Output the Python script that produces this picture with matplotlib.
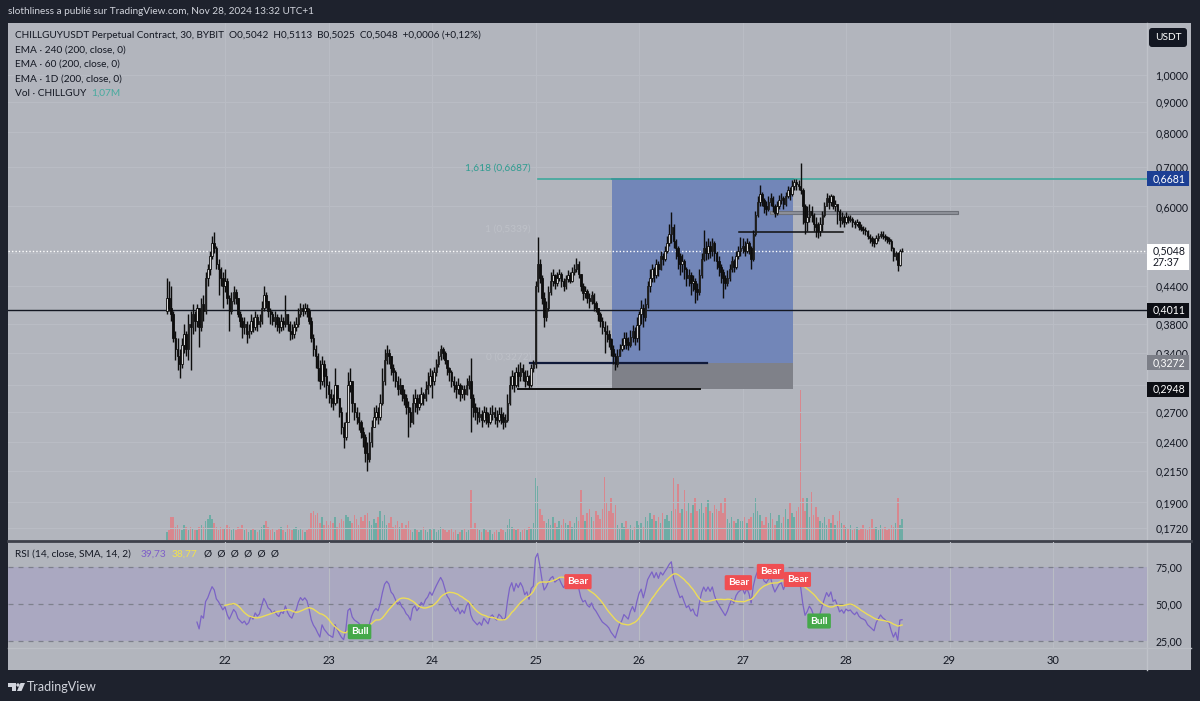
import matplotlib
matplotlib.use("Agg")
import matplotlib.pyplot as plt
from matplotlib.patches import Rectangle, Circle, Polygon, FancyBboxPatch
import numpy as np
import pandas as pd

plt.rcParams['font.family'] = ['Lato', 'DejaVu Sans']

# ---------------- data: CHILLGUYUSDT 30 min candles ----------------
first_bar = [21 + 21 / 48, 22, 23, 24, 25, 26, 27, 28]   # day number of first candle of each day
open_first = 0.400

c21 = [.420, .405, .395, .360, .345, .335, .325, .350, .365, .345, .380, .375, .395, .385, .405, .375, .410, .400,
       .455, .470, .495, .520, .510, .480, .470, .455, .440]
h21 = [.455, .450, .440, .400, .370, .360, .345, .360, .380, .370, .395, .400, .410, .400, .410, .405, .420, .425,
       .465, .480, .505, .535, .543, .515, .490, .475, .465]
l21 = [.395, .400, .385, .355, .330, .318, .308, .320, .340, .335, .330, .318, .365, .370, .375, .348, .370, .385,
       .395, .440, .460, .490, .500, .470, .425, .440, .405]

c22 = [.450, .420, .400, .415, .430, .420, .395, .385, .375, .380, .365, .370, .385, .375, .390, .380, .385,
       .405, .425, .415, .400, .395, .385, .390, .380, .375, .385, .380, .395, .380, .370, .365, .375, .380,
       .395, .405, .400, .405, .400, .385, .360, .345, .335, .320, .305, .325, .310, .300]
h22 = [.470, .455, .425, .430, .440, .435, .420, .400, .390, .390, .385, .380, .395, .390, .400, .395, .395,
       .415, .440, .430, .415, .405, .400, .400, .395, .390, .395, .390, .425, .395, .385, .380, .385, .390,
       .405, .412, .410, .412, .410, .405, .390, .365, .350, .340, .330, .335, .330, .320]
l22 = [.430, .410, .370, .395, .410, .410, .390, .375, .360, .365, .353, .360, .365, .368, .372, .370, .375,
       .380, .400, .405, .390, .380, .378, .375, .370, .367, .370, .372, .375, .370, .357, .358, .360, .370,
       .375, .390, .392, .395, .390, .380, .355, .335, .320, .305, .295, .300, .298, .285]

c23 = [.290, .285, .280, .300, .285, .270, .255, .245, .260, .300, .305, .280, .270, .265, .260, .250, .245,
       .230, .225, .240, .255, .265, .270, .265, .280, .305, .330, .340, .335, .320, .315, .305, .295, .300,
       .290, .285, .275, .270, .260, .280, .285, .275, .280, .290, .285, .295, .300, .310]
h23 = [.305, .295, .290, .320, .300, .285, .275, .260, .270, .315, .320, .305, .280, .275, .270, .262, .255,
       .248, .240, .250, .262, .275, .278, .275, .290, .320, .345, .350, .345, .335, .325, .318, .310, .308,
       .300, .295, .290, .282, .275, .290, .295, .290, .290, .298, .292, .305, .315, .320]
l23 = [.280, .275, .272, .278, .280, .265, .248, .235, .242, .260, .292, .270, .262, .258, .252, .244, .236,
       .222, .215, .222, .236, .255, .262, .258, .262, .278, .300, .325, .325, .312, .305, .298, .288, .290,
       .282, .278, .268, .245, .255, .258, .270, .268, .272, .278, .278, .282, .290, .298]

c24 = [.305, .315, .325, .335, .345, .340, .330, .320, .315, .305, .300, .295, .300, .290, .295, .290, .300,
       .305, .285, .275, .270, .265, .268, .262, .270, .265, .260, .268, .270, .265, .262, .268, .265, .260,
       .262, .280, .300, .310, .300, .315, .310, .320, .315, .305, .310, .300, .320, .325]
h24 = [.318, .322, .332, .342, .350, .348, .342, .330, .322, .318, .310, .305, .308, .302, .300, .300, .308,
       .312, .333, .290, .280, .275, .275, .272, .276, .275, .270, .275, .278, .275, .272, .275, .275, .270,
       .268, .290, .310, .318, .315, .322, .325, .328, .325, .318, .318, .312, .325, .330]
l24 = [.285, .300, .310, .322, .330, .332, .325, .312, .305, .298, .292, .285, .290, .282, .285, .283, .288,
       .295, .250, .265, .262, .258, .260, .255, .260, .258, .255, .258, .262, .258, .255, .260, .258, .253,
       .255, .260, .278, .295, .292, .298, .298, .305, .305, .298, .300, .295, .298, .315]

c25 = [.440, .480, .455, .420, .390, .405, .430, .450, .460, .445, .455, .462, .450, .440, .452, .460, .450,
       .465, .470, .480, .462, .440, .428, .432, .420, .415, .425, .412, .405, .395, .385, .375, .370, .365,
       .358, .345, .335, .325, .335, .345, .350, .360, .355, .350, .362, .370, .360, .378]
h25 = [.450, .533, .490, .460, .430, .415, .440, .465, .470, .462, .465, .470, .465, .455, .460, .468, .465,
       .475, .480, .492, .485, .462, .445, .440, .435, .428, .432, .428, .415, .405, .398, .390, .385, .378,
       .372, .360, .350, .340, .345, .352, .360, .368, .368, .362, .372, .378, .375, .390]
l25 = [.320, .430, .445, .410, .375, .385, .400, .425, .440, .435, .440, .450, .438, .432, .435, .448, .445,
       .448, .460, .465, .455, .432, .418, .420, .412, .405, .410, .400, .398, .385, .375, .365, .340, .355,
       .348, .335, .325, .318, .322, .335, .342, .345, .345, .344, .348, .355, .350, .355]

c26 = [.395, .405, .390, .410, .440, .455, .470, .460, .480, .470, .495, .490, .505, .520, .540, .555, .525,
       .510, .495, .480, .485, .470, .455, .460, .445, .450, .435, .430, .460, .490, .510, .500, .515, .505,
       .520, .500, .485, .475, .465, .455, .445, .455, .470, .485, .475, .495, .505, .510]
h26 = [.400, .418, .410, .420, .450, .470, .480, .475, .490, .485, .505, .500, .515, .535, .560, .587, .560,
       .528, .515, .500, .498, .490, .475, .470, .465, .460, .455, .445, .470, .500, .547, .525, .530, .525,
       .530, .525, .505, .495, .480, .470, .460, .468, .480, .495, .490, .505, .515, .533]
l26 = [.344, .380, .375, .385, .405, .430, .448, .448, .455, .458, .468, .478, .485, .500, .515, .520, .510,
       .490, .470, .460, .465, .452, .440, .440, .425, .432, .412, .418, .425, .455, .485, .488, .490, .492,
       .495, .485, .470, .458, .445, .420, .435, .440, .450, .465, .465, .470, .490, .495]

c27 = [.515, .505, .520, .510, .490, .540, .580, .610, .630, .615, .600, .595, .610, .620, .600, .585, .600,
       .615, .620, .605, .625, .640, .630, .650, .660, .655, .650, .640, .600, .565, .575, .590, .580, .560,
       .555, .545, .560, .580, .600, .620, .610, .625, .600, .605, .590, .570, .575, .565]
h27 = [.530, .525, .530, .525, .515, .548, .590, .625, .652, .635, .620, .612, .625, .632, .625, .605, .612,
       .628, .632, .625, .635, .650, .648, .665, .668, .668, .665, .710, .645, .605, .600, .605, .600, .585,
       .575, .565, .575, .590, .610, .632, .628, .630, .628, .615, .605, .595, .588, .580]
l27 = [.500, .495, .500, .498, .470, .485, .535, .575, .600, .600, .585, .580, .590, .600, .588, .575, .580,
       .595, .605, .595, .600, .620, .615, .625, .640, .640, .640, .630, .560, .540, .545, .565, .565, .545,
       .533, .530, .535, .545, .575, .600, .595, .600, .595, .590, .560, .555, .560, .555]

c28 = [.575, .570, .572, .565, .560, .565, .555, .550, .548, .545, .535, .530, .525, .520, .530, .535, .540,
       .535, .532, .528, .525, .510, .495, .500, .478, .5042, .5048]
h28 = [.588, .580, .580, .575, .570, .572, .568, .560, .556, .555, .548, .540, .535, .530, .538, .542, .545,
       .545, .540, .536, .532, .528, .512, .505, .502, .508, .5113]
l28 = [.560, .562, .565, .555, .552, .556, .548, .545, .540, .538, .528, .520, .515, .512, .518, .525, .530,
       .528, .525, .520, .518, .505, .485, .488, .467, .476, .5025]

# volume in millions
v21 = [0.4, 0.5, 1.2, 1.2, 0.7, 0.8, 0.6, 0.5, 0.8, 0.7, 0.5, 0.7, 0.6, 0.5, 0.5, 0.7, 0.8, 0.7, 1.0, 1.1, 1.3,
       1.1, 0.9, 0.7, 0.5, 0.7, 0.6]
v22 = [0.6, 0.8, 0.7, 0.5, 0.6, 0.5, 0.7, 0.6, 0.8, 0.5, 0.6, 0.4, 0.5, 0.6, 0.5, 0.4, 0.5, 0.7, 0.8, 1.0, 0.7,
       0.5, 0.6, 0.4, 0.5, 0.6, 0.7, 0.5, 0.4, 0.8, 0.6, 0.5, 0.6, 0.7, 0.5, 0.6, 0.5, 0.4, 0.5, 0.6,
       1.4, 1.5, 1.3, 1.4, 0.9, 1.2, 0.8, 1.0]
v23 = [0.8, 1.0, 0.9, 1.2, 0.7, 0.9, 1.1, 1.0, 1.3, 1.2, 1.0, 0.9, 1.3, 1.1, 0.8, 1.2, 1.0, 1.3, 1.4, 1.0, 0.8,
       1.1, 0.9, 1.2, 1.5, 1.0, 1.3, 0.8, 0.9, 1.2, 0.7, 0.8, 1.0, 0.7, 0.9, 0.6, 0.8, 1.0, 0.5, 0.4, 0.6,
       0.5, 0.4, 0.5, 0.7, 0.5, 0.4, 0.6]
v24 = [0.5, 0.6, 0.4, 0.5, 0.7, 0.6, 0.5, 0.4, 0.5, 0.6, 0.4, 0.5, 0.3, 0.4, 0.5, 0.6, 0.4, 0.5, 2.6, 0.6, 0.9,
       0.6, 0.5, 0.4, 0.6, 0.5, 0.4, 0.5, 0.3, 0.4, 0.5, 0.4, 0.6, 0.5, 0.4, 0.8, 1.1, 0.7, 0.6, 0.5, 0.6,
       0.4, 0.5, 0.6, 0.5, 0.7, 0.6, 0.9]
v25 = [3.2, 2.8, 1.6, 1.3, 1.0, 0.9, 1.1, 0.8, 1.2, 0.9, 0.7, 1.0, 0.8, 1.1, 0.9, 0.8, 1.0, 0.7, 0.9, 1.2, 1.0,
       2.6, 1.3, 1.0, 1.4, 1.6, 1.2, 1.0, 1.5, 1.3, 1.1, 1.6, 3.3, 2.0, 1.5, 2.2, 1.4, 1.8, 0.8, 0.6, 0.9,
       0.7, 1.0, 0.6, 0.8, 0.5, 0.7, 1.0]
v26 = [0.8, 0.9, 0.7, 1.2, 1.0, 1.4, 1.1, 1.3, 1.0, 1.2, 0.9, 1.4, 1.1, 1.3, 1.0, 1.5, 3.2, 1.6, 2.9, 1.4, 1.6,
       2.6, 1.5, 2.0, 1.4, 1.8, 2.2, 1.5, 1.6, 1.9, 1.4, 1.7, 2.1, 1.5, 1.4, 1.8, 1.6, 1.5, 1.9, 1.4, 2.2,
       1.1, 0.9, 1.2, 1.0, 0.9, 1.1, 1.0]
v27 = [1.0, 1.2, 0.9, 1.1, 1.2, 1.4, 2.2, 1.5, 1.3, 1.0, 0.8, 1.2, 0.9, 1.4, 1.1, 0.8, 1.0, 1.3, 0.9, 1.2, 1.6,
       1.1, 2.0, 1.4, 1.2, 1.5, 1.7, 7.8, 2.2, 1.5, 2.2, 1.2, 2.5, 1.3, 1.7, 1.2, 1.0, 0.9, 1.2, 0.8, 1.1,
       0.9, 1.3, 0.8, 1.0, 1.5, 0.9, 0.8]
v28 = [0.7, 0.6, 0.8, 0.5, 0.6, 0.7, 0.5, 0.6, 0.8, 0.6, 0.5, 0.7, 1.1, 0.6, 0.7, 0.5, 0.8, 0.6, 0.7, 0.5, 0.6,
       0.8, 0.7, 0.9, 2.2, 0.8, 1.07]

closes = [c21, c22, c23, c24, c25, c26, c27, c28]
highs = [h21, h22, h23, h24, h25, h26, h27, h28]
lows = [l21, l22, l23, l24, l25, l26, l27, l28]
vols = [v21, v22, v23, v24, v25, v26, v27, v28]

# chart drawings (time as day of November, price)
price_ticks = [1.0, 0.9, 0.8, 0.7, 0.6, 0.5, 0.44, 0.38, 0.34, 0.30, 0.27, 0.24, 0.215, 0.19, 0.172]
hidden_ticks = [0.5, 0.30]          # covered by the price tags
day_ticks = [22, 23, 24, 25, 26, 27, 28, 29, 30]
last_price = 0.5048
h_level = 0.4011
fib_1618 = 0.6687
fib_start = 25.02
pos_t0, pos_t1 = 25.735, 27.485
pos_target, pos_entry, pos_stop = 0.6681, 0.3272, 0.2948
seg_entry = (24.95, 26.66)
seg_stop = (24.83, 26.59)
seg_mid = (26.97, 27.97, 0.543)
zone = (27.27, 29.08, 0.583, 0.589)
bull_t, bull_v = [23.30, 27.74], [31.3, 38.5]
bear_t, bear_v = [25.41, 26.96, 27.27, 27.53], [65.1, 64.4, 72.0, 66.6]

# ---------------- colours ----------------
FRAME = '#1e222d'
BG = '#b2b5bd'
GRID = '#b9bcc4'
TXT = '#131722'
UP_BODY, DN_BODY = '#d9d9d9', '#0d0d0d'
VOL_UP, VOL_DN = '#6eaca5', '#d8878e'
FS = 7.3

# ---------------- layout (pixels) ----------------
W, H = 1200, 701
L, R = 8, 1147
MAIN_T, MAIN_B = 23, 540
RSI_T, RSI_B = 542, 648


def rect(x0, y0, x1, y1):
    return [x0 / W, 1 - y1 / H, (x1 - x0) / W, (y1 - y0) / H]


def day_of(px):
    return 22 + (px - 225) / 103.5


def price_of(py):
    return np.exp((75 - py) / 257.4)


def py_of(p):
    return 75 - 257.4 * np.log(p)


def rsi_of(py):
    return 50 + (604 - py) / 1.48


t = np.concatenate([s + np.arange(len(c)) / 48 for s, c in zip(first_bar, closes)])
c = np.concatenate(closes)
h = np.concatenate(highs)
lo = np.concatenate(lows)
v = np.concatenate(vols)
o = np.r_[open_first, c[:-1]]
h = np.maximum(h, np.maximum(o, c))
lo = np.minimum(lo, np.minimum(o, c))
up = c >= o

close_s = pd.Series(c)
d = close_s.diff()
gain = d.clip(lower=0).ewm(alpha=1 / 14, adjust=False, min_periods=14).mean()
loss = (-d.clip(upper=0)).ewm(alpha=1 / 14, adjust=False, min_periods=14).mean()
rsi = 100 - 100 / (1 + gain / loss)
rsi_ma = rsi.rolling(14).mean()

fig = plt.figure(figsize=(12, 7.01), dpi=100)
fig.patch.set_facecolor(FRAME)

bg = fig.add_axes([0, 0, 1, 1])
bg.set_xlim(0, W)
bg.set_ylim(H, 0)
bg.axis('off')
bg.add_patch(Rectangle((8, 23), 1183, 647, fc=BG, ec='none'))
bg.plot([R, R], [23, 670], color='#bfc2c9', lw=1)
bg.plot([8, 1191], [RSI_B, RSI_B], color='#bcbfc6', lw=1)
bg.plot([8, 1191], [541, 541], color='#3e414b', lw=2)
# tradingview logo
bg.add_patch(Polygon([(8, 683), (15.5, 683), (15.5, 691), (12, 691), (12, 686.5), (8, 686.5)], fc='#d1d4dc', ec='none'))
bg.add_patch(Circle((18, 685), 1.7, fc='#d1d4dc', ec='none'))
bg.add_patch(Polygon([(20.5, 683), (25, 683), (21.5, 691), (17, 691)], fc='#d1d4dc', ec='none'))

xlim = (day_of(L), day_of(R))

# volume pane (behind the candles)
vax = fig.add_axes(rect(L, MAIN_T, R, MAIN_B))
vax.set_facecolor('none')
vax.bar(t, v, width=0.72 / 48, color=np.where(up, VOL_UP, VOL_DN), lw=0)
vax.set_xlim(*xlim)
vax.set_ylim(0, (MAIN_B - MAIN_T) * 0.052)
vax.axis('off')

ax = fig.add_axes(rect(L, MAIN_T, R, MAIN_B))
ax.set_facecolor('none')
ax.set_yscale('log')
ax.set_xlim(*xlim)
ax.set_ylim(price_of(MAIN_B), price_of(MAIN_T))
ax.yaxis.set_major_locator(matplotlib.ticker.FixedLocator(price_ticks))
ax.yaxis.set_minor_locator(matplotlib.ticker.NullLocator())
ax.yaxis.set_major_formatter(matplotlib.ticker.FuncFormatter(
    lambda y, _: '' if any(abs(y - q) < 1e-9 for q in hidden_ticks) else f"{y:.4f}".replace('.', ',')))
ax.yaxis.tick_right()
ax.tick_params(axis='y', length=0, pad=6, labelsize=FS + 0.3, labelcolor=TXT)
ax.set_xticks(day_ticks)
ax.tick_params(axis='x', length=0, labelbottom=False)
ax.grid(True, color=GRID, lw=0.8)
ax.set_axisbelow(True)
for s in ax.spines.values():
    s.set_visible(False)

# long position tool
ax.add_patch(Rectangle((pos_t0, pos_entry), pos_t1 - pos_t0, pos_target - pos_entry,
                       fc='#7286b8', ec='none', zorder=1))
ax.add_patch(Rectangle((pos_t0, pos_stop), pos_t1 - pos_t0, pos_entry - pos_stop,
                       fc='#7f8189', ec='none', zorder=1))
ax.plot([pos_t0, pos_t1], [pos_target, pos_target], color='#1f3c85', lw=1.2, zorder=2)
ax.plot([fib_start, xlim[1]], [fib_1618, fib_1618], color='#3ea89c', lw=1.2, zorder=2)
ax.text(day_of(531), fib_1618 * 1.025, '1,618 (0,6687)', color='#2e9c90', fontsize=FS,
        ha='right', va='bottom', zorder=2)
ax.text(day_of(531), 0.5339 * 1.01, '1 (0,5339)', color='#bec1c8', fontsize=FS, ha='right', va='bottom', zorder=2)
ax.text(day_of(531), pos_entry * 1.005, '0 (0,3272)', color='#bec1c8', fontsize=FS, ha='right', va='bottom', zorder=2)
ax.add_patch(Rectangle((zone[0], zone[2]), zone[1] - zone[0], zone[3] - zone[2],
                       fc='#8e9199', ec='#6d7078', lw=0.8, zorder=2))
ax.axhline(h_level, color=TXT, lw=1, zorder=3)
ax.axhline(last_price, color='white', lw=1, ls=(0, (1, 1.5)), zorder=3)
ax.plot(seg_entry, [pos_entry] * 2, color='#101a3a', lw=1.6, zorder=3)
ax.plot(seg_stop, [pos_stop] * 2, color='#101010', lw=1.4, zorder=3)
ax.plot(seg_mid[:2], [seg_mid[2]] * 2, color='#101010', lw=1.1, zorder=3)

# candles
ax.vlines(t, lo, h, color='#0d0d0d', lw=1.0, zorder=4)
ax.bar(t, np.maximum(np.abs(c - o), 0.0012), bottom=np.minimum(o, c), width=0.72 / 48,
       color=np.where(up, UP_BODY, DN_BODY), edgecolor='#0d0d0d', lw=0.6, zorder=5)

# RSI pane
rax = fig.add_axes(rect(L, RSI_T, R, RSI_B))
rax.set_facecolor('none')
rax.set_xlim(*xlim)
rax.set_ylim(rsi_of(RSI_B), rsi_of(RSI_T))
rax.axhspan(25, 75, color='#aaa8c1', lw=0, zorder=0)
for lvl in (75, 50, 25):
    rax.axhline(lvl, color='#7d808c', lw=0.9, ls=(0, (4, 4)), zorder=1)
rax.plot(t, rsi, color='#7b63c6', lw=0.9, zorder=3)
rax.plot(t, rsi_ma, color='#ecdc58', lw=1.0, zorder=3)
for x, y in zip(bull_t, bull_v):
    rax.text(x, y, 'Bull', color='white', fontsize=FS, fontweight='bold', ha='center', va='center', zorder=5,
             bbox=dict(boxstyle='round,pad=0.3,rounding_size=0.15', fc='#45a84a', ec='none'))
for x, y in zip(bear_t, bear_v):
    rax.text(x, y, 'Bear', color='white', fontsize=FS, fontweight='bold', ha='center', va='center', zorder=5,
             bbox=dict(boxstyle='round,pad=0.3,rounding_size=0.15', fc='#f04e52', ec='none'))
rax.set_yticks([75, 50, 25])
rax.set_yticklabels(['75,00', '50,00', '25,00'])
rax.yaxis.tick_right()
rax.tick_params(axis='y', length=0, pad=6, labelsize=FS + 0.3, labelcolor=TXT)
rax.set_xticks(day_ticks)
rax.set_xticklabels([str(dd) for dd in day_ticks])
rax.tick_params(axis='x', length=0, pad=5, labelsize=FS + 0.7, labelcolor=TXT)
rax.grid(True, axis='x', color=GRID, lw=0.8)
rax.set_axisbelow(True)
for s in rax.spines.values():
    s.set_visible(False)

# overlay in pixel coordinates: headers and price-scale tags
top = fig.add_axes([0, 0, 1, 1])
top.set_xlim(0, W)
top.set_ylim(H, 0)
top.axis('off')
top.patch.set_alpha(0)

top.text(8, 12, 'slothliness a publié sur TradingView.com, Nov 28, 2024 13:32 UTC+1',
         color='#d1d4dc', fontsize=FS - 0.1, va='center')
top.text(15, 35, 'CHILLGUYUSDT Perpetual Contract, 30, BYBIT  O0,5042  H0,5113  B0,5025  C0,5048  +0,0006 (+0,12%)',
         color=TXT, fontsize=FS - 0.1, va='center')
top.text(15, 50, 'EMA · 240 (200, close, 0)', color=TXT, fontsize=FS, va='center')
top.text(15, 64, 'EMA · 60 (200, close, 0)', color=TXT, fontsize=FS, va='center')
top.text(15, 79, 'EMA · 1D (200, close, 0)', color=TXT, fontsize=FS, va='center')
top.text(15, 93, 'Vol · CHILLGUY', color=TXT, fontsize=FS, va='center')
top.text(91, 93, '1,07M', color='#47ab9f', fontsize=FS, va='center')
top.text(15, 554, 'RSI (14, close, SMA, 14, 2)', color=TXT, fontsize=FS, va='center')
top.text(141, 554, '39,73', color='#7e5fc8', fontsize=FS, va='center')
top.text(172, 554, '38,77', color='#f2e24c', fontsize=FS, va='center')
top.text(204, 554, 'Ø  Ø  Ø  Ø  Ø  Ø', color=TXT, fontsize=FS, va='center')
top.text(27, 687, 'TradingView', color='#d1d4dc', fontsize=9, va='center')

top.add_patch(FancyBboxPatch((1149, 28), 38, 19, boxstyle='round,pad=0,rounding_size=3',
                             fc='#131722', ec='none'))
top.text(1168, 37.5, 'USDT', color='white', fontsize=FS, ha='center', va='center')

tags = [(pos_target, '0,6681', '#1c3f94', 'white'),
        (h_level, '0,4011', '#0c0e14', 'white'),
        (pos_entry, '0,3272', '#7c7f88', 'white'),
        (pos_stop, '0,2948', '#0c0e14', 'white')]
for p, txt, fc, tc in tags:
    y = py_of(p)
    top.add_patch(Rectangle((R, y - 7.5), 42, 15, fc=fc, ec='none'))
    top.text(R + 6, y, txt, color=tc, fontsize=FS + 0.3, va='center')
y = py_of(last_price)
top.add_patch(Rectangle((R, y - 7), 42, 26, fc='white', ec='none'))
top.text(R + 6, y, '0,5048', color=TXT, fontsize=FS + 0.3, va='center')
top.text(R + 6, y + 12, '27:37', color=TXT, fontsize=FS + 0.3, va='center')

fig.savefig('out.png', dpi=100, facecolor=FRAME)
